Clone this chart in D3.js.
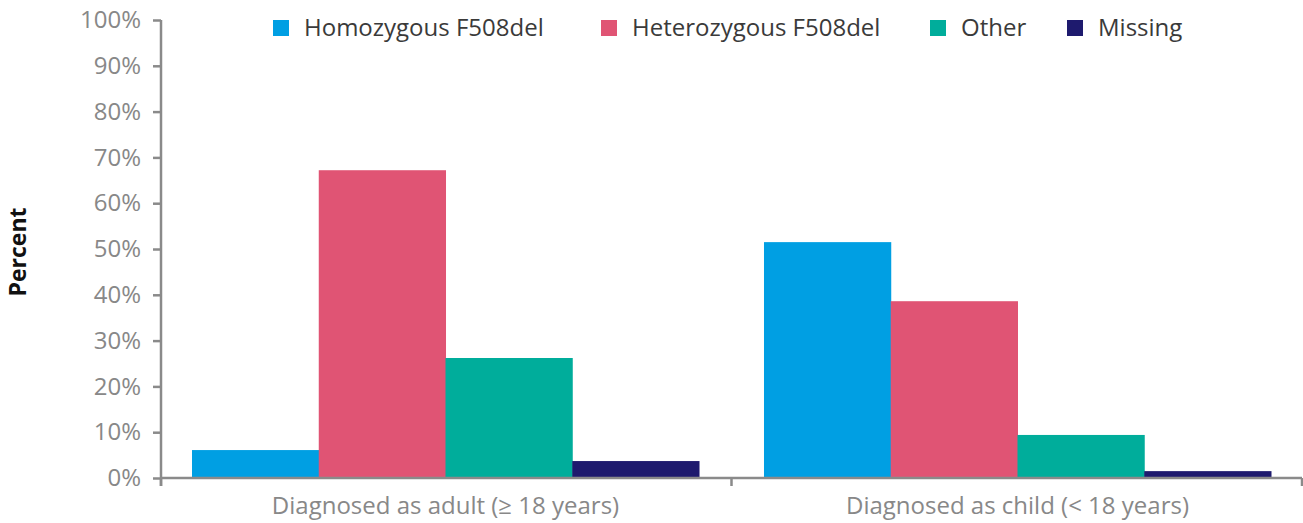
<!DOCTYPE html>
<html><head><meta charset="utf-8">
<script src="https://cdn.jsdelivr.net/npm/d3@7"></script>
<style>body{margin:0;background:#fff}svg{display:block;font-family:"Open Sans",sans-serif}</style>
</head><body><svg id="c" width="1303" height="523"></svg>
<script>
const categories = ["Diagnosed as adult (\u2265 18 years)", "Diagnosed as child (< 18 years)"];
const seriesNames = ["Homozygous F508del", "Heterozygous F508del", "Other", "Missing"];
const homozygous = [6.1, 51.5];
const heterozygous = [67.2, 38.6];
const other = [26.2, 9.4];
const missing = [3.7, 1.5];
const yTicks = [0,10,20,30,40,50,60,70,80,90,100];
const colors = ["#009fe3", "#e05474", "#00ad9b", "#1e1a6e"];

const seriesValues = [homozygous, heterozygous, other, missing];
const svg = d3.select("#c");
const mLeft = 161, mRight = 1302, mTop = 20, mBottom = 478;

const x0 = d3.scaleBand().domain(categories).range([mLeft, mRight]).paddingInner(0.1136).paddingOuter(0.0542);
const x1 = d3.scaleBand().domain(seriesNames).range([0, x0.bandwidth()]);
const y = d3.scaleLinear().domain([0, 100]).range([mBottom, mTop]);

// bars
categories.forEach((c, ci) => {
  svg.append("g").selectAll("rect").data(seriesNames).join("rect")
    .attr("x", s => x0(c) + x1(s))
    .attr("width", x1.bandwidth() + 0.5)
    .attr("y", (s, si) => y(seriesValues[si][ci]))
    .attr("height", (s, si) => mBottom - y(seriesValues[si][ci]))
    .attr("fill", (s, si) => colors[si]);
});

// y axis
const yAxis = svg.append("g").attr("transform", `translate(${mLeft},0)`)
  .call(d3.axisLeft(y).tickValues(yTicks).tickFormat(d => d + "%").tickSize(8).tickPadding(12));
yAxis.select(".domain").remove();
yAxis.selectAll(".tick line").attr("stroke", "#8a8a8a").attr("stroke-width", 2.5);
yAxis.selectAll(".tick text").attr("fill", "#888888").attr("font-size", 24).attr("font-family", "Open Sans");
svg.append("line").attr("x1", mLeft).attr("x2", mLeft).attr("y1", mTop).attr("y2", mBottom + 8)
  .attr("stroke", "#8a8a8a").attr("stroke-width", 2.5);

// x axis
svg.append("line").attr("x1", mLeft).attr("x2", mRight).attr("y1", mBottom).attr("y2", mBottom)
  .attr("stroke", "#8a8a8a").attr("stroke-width", 2.5);
const boundaries = [mLeft, (x0(categories[0]) + x0.bandwidth() + x0(categories[1])) / 2, mRight];
svg.append("g").selectAll("line").data(boundaries).join("line")
  .attr("x1", d => d).attr("x2", d => d).attr("y1", mBottom).attr("y2", mBottom + 8)
  .attr("stroke", "#8a8a8a").attr("stroke-width", 2.5);
svg.append("g").selectAll("text").data(categories).join("text")
  .attr("x", d => x0(d) + x0.bandwidth() / 2).attr("y", 514)
  .attr("text-anchor", "middle").attr("font-size", 24).attr("fill", "#888888").text(d => d);

// y title
svg.append("text").attr("transform", "translate(26,252) rotate(-90)")
  .attr("text-anchor", "middle").attr("font-size", 23).attr("font-weight", "bold").attr("fill", "#111").text("Percent");

// legend
const legendX = [273, 601, 930, 1067];
const lg = svg.append("g").selectAll("g").data(seriesNames).join("g")
  .attr("transform", (d, i) => `translate(${legendX[i]},20)`);
lg.append("rect").attr("width", 16).attr("height", 16).attr("fill", (d, i) => colors[i]);
lg.append("text").attr("x", 31).attr("y", 16).attr("font-size", 24).attr("fill", "#3a3a3a").text(d => d);
</script></body></html>
